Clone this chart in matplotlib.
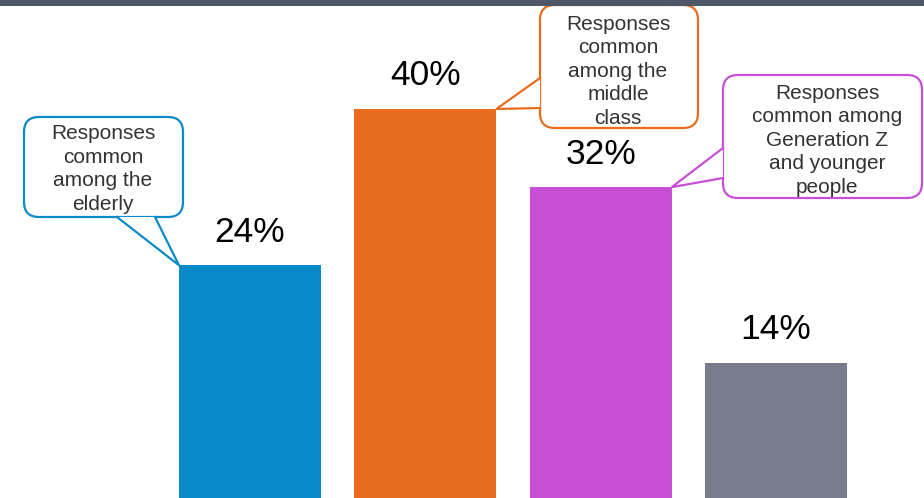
import matplotlib.pyplot as plt
from matplotlib.patches import FancyBboxPatch, Polygon, Rectangle

plt.rcParams['font.family'] = ['Liberation Sans', 'DejaVu Sans']

# data
categories = ["Elderly", "Middle class", "Generation Z", "Other"]
values = [24, 40, 32, 14]
value_labels = ["24%", "40%", "32%", "14%"]
bar_colors = ["#0a8bc9", "#e96c1e", "#c74fd6", "#767c89"]

callout_texts = [
    "Responses\ncommon\namong the\nelderly",
    "Responses\ncommon\namong the\nmiddle\nclass",
    "Responses\ncommon among\nGeneration Z\nand younger\npeople",
]

# layout of callouts in pixels (x0, y0, x1, y1), tail base points, tip side
callout_layout = [
    dict(box=(24, 117, 183, 217), base=[(117, 217), (155, 217)], side=-1, text_xy=(103, 169)),
    dict(box=(540, 5, 698, 128), base=[(540, 78), (540, 108)], side=1, text_xy=(618, 71)),
    dict(box=(723, 75, 922, 198), base=[(723, 148), (723, 178)], side=1, text_xy=(827, 140)),
]

W, H = 924, 498
fig = plt.figure(figsize=(W / 100, H / 100), dpi=100)
ax = fig.add_axes([0, 0, 1, 1])
bar_w = 0.81
xs = list(range(len(values)))
ax.bar(xs, values, width=bar_w, color=bar_colors, zorder=2)
for x, v, lab in zip(xs, values, value_labels):
    ax.text(x, v + 1.7, lab, ha='center', va='bottom', fontsize=25.5, color='black')
ax.set_xlim(-1.426, 3.844)
ax.set_ylim(0.18, 51.16)
ax.axis('off')

# overlay in pixel coords (y down)
ov = fig.add_axes([0, 0, 1, 1])
ov.set_xlim(0, W)
ov.set_ylim(H, 0)
ov.axis('off')
ov.patch.set_alpha(0)

fig.canvas.draw()
for i, (txt, lay) in enumerate(zip(callout_texts, callout_layout)):
    col = bar_colors[i]
    tx, ty = ax.transData.transform((xs[i] + lay['side'] * bar_w / 2, values[i]))
    tip = (tx, H - ty)
    x0, y0, x1, y1 = lay['box']
    box = FancyBboxPatch((x0, y0), x1 - x0, y1 - y0,
                         boxstyle="round,pad=0,rounding_size=15",
                         facecolor='white', edgecolor=col, linewidth=1.6, zorder=3)
    ov.add_patch(box)
    b1, b2 = lay['base']
    ov.add_patch(Polygon([b1, tip, b2], closed=True, facecolor='white',
                         edgecolor='none', zorder=4))
    ov.plot([b1[0], tip[0], b2[0]], [b1[1], tip[1], b2[1]], color=col,
            linewidth=1.6, zorder=5, solid_joinstyle='miter')
    ov.text(lay['text_xy'][0], lay['text_xy'][1], txt, ha='center', va='center',
            fontsize=15, color='#333333', linespacing=1.3, zorder=6)

# header strip
ov.add_patch(Rectangle((0, 0), W, 6, facecolor='#4d5767', edgecolor='none', zorder=10))

fig.savefig("out.png", dpi=100)
